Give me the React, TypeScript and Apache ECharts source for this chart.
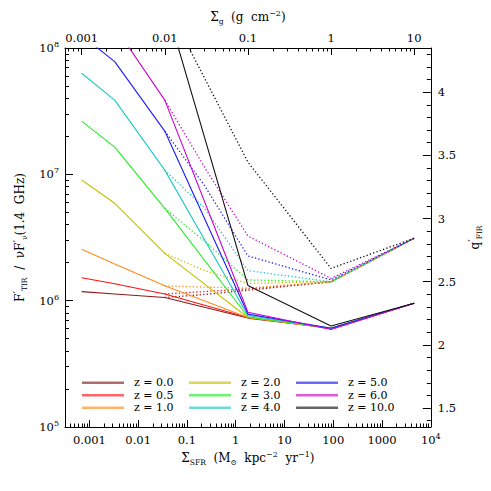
import React, { useEffect, useRef } from 'react';
import * as echarts from 'echarts';

// ---------- data ----------
const Z_LABELS = ['z = 0.0', 'z = 0.5', 'z = 1.0', 'z = 2.0', 'z = 3.0', 'z = 4.0', 'z = 5.0', 'z = 6.0', 'z = 10.0'];
const COLORS = ['#8b1a1a', '#ff1010', '#ff8c1a', '#c8c000', '#22ee22', '#20c8c8', '#1a1aff', '#cc00cc', '#111111'];

// gas surface density (top axis, g cm^-2) at which the curves are sampled
const SIGMA_G = [0.001, 0.0025, 0.01, 0.1, 1, 10];
const SIGMA_G_DOT = [0.01, 0.03, 0.1, 1, 10];

// solid curves: F'_TIR / nu F'_nu(1.4 GHz)
const SOLID_Z00 = [1.18e6, 1.13e6, 1.06e6, 7.28e5, 6.04e5, 9.53e5];
const SOLID_Z05 = [1.52e6, 1.36e6, 1.13e6, 7.36e5, 6.04e5, 9.53e5];
const SOLID_Z10 = [2.55e6, 1.95e6, 1.31e6, 7.36e5, 6.04e5, 9.53e5];
const SOLID_Z20 = [9.02e6, 5.9e6, 2.37e6, 7.36e5, 6.04e5, 9.53e5];
const SOLID_Z30 = [2.64e7, 1.64e7, 5.38e6, 7.46e5, 6.04e5, 9.53e5];
const SOLID_Z40 = [6.31e7, 3.87e7, 1.08e7, 7.62e5, 6.04e5, 9.53e5];
const SOLID_Z50 = [1.26e8, 7.8e7, 2.2e7, 7.83e5, 6.04e5, 9.53e5];
const SOLID_Z60 = [2.8e8, 1.48e8, 3.87e7, 8.09e5, 5.92e5, 9.53e5];
const SOLID_Z100 = [1.0e9, 5.6e8, 2.33e8, 1.32e6, 6.3e5, 9.53e5];

// dotted curves
const DOT_Z00 = [1.06e6, 1.12e6, 1.21e6, 1.41e6, 3.12e6];
const DOT_Z05 = [1.13e6, 1.18e6, 1.24e6, 1.41e6, 3.12e6];
const DOT_Z10 = [1.31e6, 1.28e6, 1.26e6, 1.41e6, 3.12e6];
const DOT_Z20 = [2.37e6, 1.73e6, 1.37e6, 1.41e6, 3.12e6];
const DOT_Z30 = [5.38e6, 2.96e6, 1.46e6, 1.41e6, 3.12e6];
const DOT_Z40 = [1.08e7, 5.41e6, 1.73e6, 1.41e6, 3.12e6];
const DOT_Z50 = [2.2e7, 8.17e6, 2.26e6, 1.46e6, 3.12e6];
const DOT_Z60 = [3.87e7, 1.14e7, 3.25e6, 1.5e6, 3.12e6];
const DOT_Z100 = [2.33e8, 5.8e7, 1.25e7, 1.8e6, 3.12e6];

const SOLID = [SOLID_Z00, SOLID_Z05, SOLID_Z10, SOLID_Z20, SOLID_Z30, SOLID_Z40, SOLID_Z50, SOLID_Z60, SOLID_Z100];
const DOTTED = [DOT_Z00, DOT_Z05, DOT_Z10, DOT_Z20, DOT_Z30, DOT_Z40, DOT_Z50, DOT_Z60, DOT_Z100];

// axes
const BOTTOM_TICKS = [0.001, 0.01, 0.1, 1, 10, 100, 1000, 10000];
const TOP_TICKS = [0.001, 0.01, 0.1, 1, 10];
const LEFT_TICKS = [1e5, 1e6, 1e7, 1e8];
const RIGHT_TICKS = [1.5, 2, 2.5, 3, 3.5, 4];
const BOTTOM_RANGE = [Math.pow(10, -3.5), 1e4];
const TOP_RANGE = [Math.pow(10, -3.2), Math.pow(10, 1.2)];
const LEFT_RANGE = [1e5, 1e8];
const RIGHT_RANGE = [1.35, 4.35];

// ---------- helpers ----------
const FONT = 'DejaVu Serif';
const lg = (v: number) => Math.log10(v);

function logMinor(lo: number, hi: number): number[] {
  const out: number[] = [];
  for (let n = Math.floor(lo) - 1; n <= Math.ceil(hi); n++) {
    for (let k = 2; k <= 9; k++) {
      const v = n + Math.log10(k);
      if (v >= lo - 1e-9 && v <= hi + 1e-9) out.push(v);
    }
  }
  return out;
}
function linMinor(lo: number, hi: number, step: number, skip: number): number[] {
  const out: number[] = [];
  const start = Math.ceil(lo / step - 1e-9);
  const end = Math.floor(hi / step + 1e-9);
  for (let i = start; i <= end; i++) {
    const v = Math.round(i * step * 1000) / 1000;
    if (Math.abs(v / skip - Math.round(v / skip)) > 1e-6) out.push(v);
  }
  return out;
}

const rich = {
  t: { fontFamily: FONT, fontSize: 12, color: '#000', lineHeight: 16 },
  p: { fontFamily: FONT, fontSize: 8, color: '#000', verticalAlign: 'top', lineHeight: 16 },
  q: { fontFamily: FONT, fontSize: 11, color: '#000', verticalAlign: 'top', lineHeight: 16 },
  s: { fontFamily: FONT, fontSize: 7.5, color: '#000', verticalAlign: 'bottom', lineHeight: 16 },
  b: { fontFamily: FONT, fontSize: 11.5, color: '#000', lineHeight: 15 },
  e: { fontFamily: FONT, fontSize: 8, color: '#000', verticalAlign: 'top', lineHeight: 15 },
};

const labelBase = { fontFamily: FONT, fontSize: 11.5, color: '#000', rich };

function fmtDecimal(v: number): string {
  const e = Math.round(v);
  if (e >= 4) return '{b|10}{e|' + e + '}';
  const x = Math.pow(10, e);
  return '{b|' + (e < 0 ? x.toFixed(-e) : String(Math.round(x))) + '}';
}

const axisLineStyle = { show: true, onZero: false, lineStyle: { color: '#000', width: 1 } };

function buildOption() {
  const bMin = lg(BOTTOM_RANGE[0]), bMax = lg(BOTTOM_RANGE[1]);
  const tMin = lg(TOP_RANGE[0]), tMax = lg(TOP_RANGE[1]);
  const lMin = lg(LEFT_RANGE[0]), lMax = lg(LEFT_RANGE[1]);

  const xAxis = [
    {
      type: 'value', position: 'bottom', min: bMin, max: bMax,
      axisLine: axisLineStyle, splitLine: { show: false },
      axisTick: { inside: true, length: 7, customValues: BOTTOM_TICKS.map(lg), lineStyle: { color: '#000' } },
      axisLabel: { ...labelBase, margin: 5, customValues: BOTTOM_TICKS.map(lg), formatter: (v: number) => fmtDecimal(v) },
      name: '{t|Σ}{s|SFR}{t|  (M}{s|⊙}{t|  kpc}{p|−2}{t|  yr}{p|−1}{t|)}',
      nameLocation: 'middle', nameGap: 22,
      nameTextStyle: { fontFamily: FONT, fontSize: 12, color: '#000', rich },
    },
    {
      type: 'value', position: 'top', min: tMin, max: tMax,
      axisLine: axisLineStyle, splitLine: { show: false },
      axisTick: { inside: true, length: 7, customValues: TOP_TICKS.map(lg), lineStyle: { color: '#000' } },
      axisLabel: { ...labelBase, margin: 3, customValues: TOP_TICKS.map(lg), formatter: (v: number) => fmtDecimal(v) },
      name: '{t|Σ}{s|g}{t|  (g  cm}{p|−2}{t|)}',
      nameLocation: 'middle', nameGap: 23,
      nameTextStyle: { fontFamily: FONT, fontSize: 12, color: '#000', rich },
    },
    {
      type: 'value', position: 'bottom', min: bMin, max: bMax,
      axisLine: { show: false, onZero: false }, splitLine: { show: false }, axisLabel: { show: false },
      axisTick: { inside: true, length: 3.5, customValues: logMinor(bMin, bMax), lineStyle: { color: '#000' } },
    },
    {
      type: 'value', position: 'top', min: tMin, max: tMax,
      axisLine: { show: false, onZero: false }, splitLine: { show: false }, axisLabel: { show: false },
      axisTick: { inside: true, length: 3.5, customValues: logMinor(tMin, tMax), lineStyle: { color: '#000' } },
    },
  ];

  const yAxis = [
    {
      type: 'value', position: 'left', min: lMin, max: lMax,
      axisLine: axisLineStyle, splitLine: { show: false },
      axisTick: { inside: true, length: 8, customValues: LEFT_TICKS.map(lg), lineStyle: { color: '#000' } },
      axisLabel: { ...labelBase, margin: 6, customValues: LEFT_TICKS.map(lg), formatter: (v: number) => '{b|10}{e|' + Math.round(v) + '}' },
      name: '{t|F}{q|′}{s|TIR}{t|  /  νF}{q|′}{s|ν}{t|(1.4  GHz)}',
      nameLocation: 'middle', nameGap: 37, nameRotate: 90,
      nameTextStyle: { fontFamily: FONT, fontSize: 12, color: '#000', rich },
    },
    {
      type: 'value', position: 'right', min: RIGHT_RANGE[0], max: RIGHT_RANGE[1],
      axisLine: axisLineStyle, splitLine: { show: false },
      axisTick: { inside: true, length: 8, customValues: RIGHT_TICKS, lineStyle: { color: '#000' } },
      axisLabel: { ...labelBase, margin: 7, customValues: RIGHT_TICKS, formatter: (v: number) => '{b|' + String(Math.round(v * 10) / 10) + '}' },
      name: '{t|q}{q|′}{s|FIR}',
      nameLocation: 'middle', nameGap: 26, nameRotate: 90,
      nameTextStyle: { fontFamily: FONT, fontSize: 12, color: '#000', rich },
    },
    {
      type: 'value', position: 'left', min: lMin, max: lMax,
      axisLine: { show: false, onZero: false }, splitLine: { show: false }, axisLabel: { show: false },
      axisTick: { inside: true, length: 4, customValues: logMinor(lMin, lMax), lineStyle: { color: '#000' } },
    },
    {
      type: 'value', position: 'right', min: RIGHT_RANGE[0], max: RIGHT_RANGE[1],
      axisLine: { show: false, onZero: false }, splitLine: { show: false }, axisLabel: { show: false },
      axisTick: { inside: true, length: 4, customValues: linMinor(RIGHT_RANGE[0], RIGHT_RANGE[1], 0.1, 0.5), lineStyle: { color: '#000' } },
    },
  ];

  const series: any[] = [];
  SOLID.forEach((vals, i) => {
    series.push({
      type: 'line', name: Z_LABELS[i], xAxisIndex: 1, yAxisIndex: 0,
      data: SIGMA_G.map((g, j) => [lg(g), lg(vals[j])]),
      symbol: 'none', showSymbol: false, color: COLORS[i], itemStyle: { color: COLORS[i] },
      lineStyle: { color: COLORS[i], width: 1.1 }, silent: true, z: 3,
    });
  });
  DOTTED.forEach((vals, i) => {
    series.push({
      type: 'line', name: Z_LABELS[i], xAxisIndex: 1, yAxisIndex: 0,
      data: SIGMA_G_DOT.map((g, j) => [lg(g), lg(vals[j])]),
      symbol: 'none', showSymbol: false, color: COLORS[i], itemStyle: { color: COLORS[i] },
      lineStyle: { color: COLORS[i], width: 1.3, type: [1.3, 2.2] }, silent: true, z: 2,
    });
  });

  const legendLeft = [82, 189, 296];
  const legend = [0, 1, 2].map((c) => ({
    orient: 'vertical', left: legendLeft[c], top: 376.5, padding: 0, itemGap: 0,
    itemWidth: 42, itemHeight: 2.5, icon: 'rect', selectedMode: false,
    itemStyle: { opacity: 0.65 },
    data: Z_LABELS.slice(c * 3, c * 3 + 3),
    textStyle: { fontFamily: FONT, fontSize: 11, lineHeight: 12.5, color: '#000', padding: [0, 0, 0, 5] },
  }));

  return {
    animation: false,
    backgroundColor: '#fff',
    grid: { left: 65, right: 50, top: 48, bottom: 64, containLabel: false },
    xAxis, yAxis, legend, series,
  };
}

export default function App() {
  const ref = useRef<HTMLDivElement>(null);
  useEffect(() => {
    const chart = echarts.init(ref.current!, null, { renderer: 'svg' });
    chart.setOption(buildOption() as any);
    return () => chart.dispose();
  }, []);
  return <div ref={ref} style={{ position: 'fixed', left: 0, top: 0, width: 491, height: 491, background: '#fff' }} />;
}
